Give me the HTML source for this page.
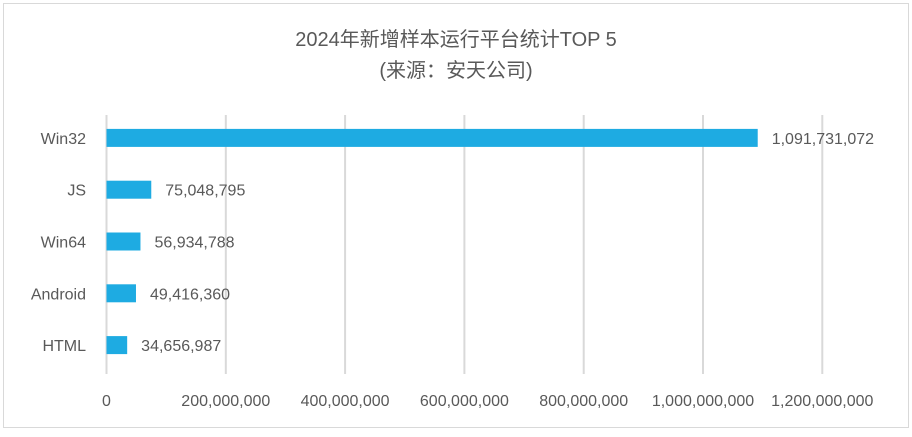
<!DOCTYPE html>
<html><head><meta charset="utf-8"><style>
body{margin:0;background:#fff;}
svg text{font-family:"Liberation Sans","Noto Sans CJK SC",sans-serif;fill:#595959;}
</style></head><body>
<svg width="912" height="432">
<rect x="3.5" y="3.5" width="905" height="424" fill="#fff" stroke="#d9d9d9"/>
<text x="456" y="46" font-size="20" text-anchor="middle">2024年新增样本运行平台统计TOP 5</text>
<text x="456" y="77" font-size="20" text-anchor="middle">(来源：安天公司)</text>
<g id="grid"></g><g id="bars"></g><g id="labels"></g>
</svg>
<script>
const categories=["Win32","JS","Win64","Android","HTML"];
const values=[1091731072,75048795,56934788,49416360,34656987];
const ticks=[0,200000000,400000000,600000000,800000000,1000000000,1200000000];
const tickLabels=["0","200,000,000","400,000,000","600,000,000","800,000,000","1,000,000,000","1,200,000,000"];
const NS="http://www.w3.org/2000/svg";
const x0=106.5,pxPer=119.3/200000000,plotTop=115,plotBottom=374,band=(plotBottom-plotTop)/categories.length,bh=18;
const xs=v=>x0+v*pxPer;
function mk(t,a,p){const e=document.createElementNS(NS,t);for(const k in a)e.setAttribute(k,a[k]);document.getElementById(p).appendChild(e);return e;}
ticks.forEach((t,i)=>{
 const l=mk('line',{x1:xs(t),x2:xs(t),y1:plotTop,y2:plotBottom,stroke:'#d9d9d9','stroke-width':2},'grid');
 
 
 const tx=mk('text',{x:xs(t),y:406,'font-size':16,'text-anchor':'middle'},'labels');
 tx.textContent=tickLabels[i];
 
 
});
categories.forEach((c,i)=>{
 const cy=plotTop+band*(i+0.5)-3;
 const r=mk('rect',{x:x0,y:cy-bh/2,width:xs(values[i])-x0,height:bh,fill:'#1eabe2'},'bars');
 
 
 const cl=mk('text',{x:86,y:cy+6,'font-size':16,'text-anchor':'end'},'labels');
 cl.textContent=c;
 
 
 const vl=mk('text',{x:xs(values[i])+14,y:cy+6,'font-size':16},'labels');
 vl.textContent=values[i].toLocaleString('en-US');
 
 
});
</script>
</body></html>
